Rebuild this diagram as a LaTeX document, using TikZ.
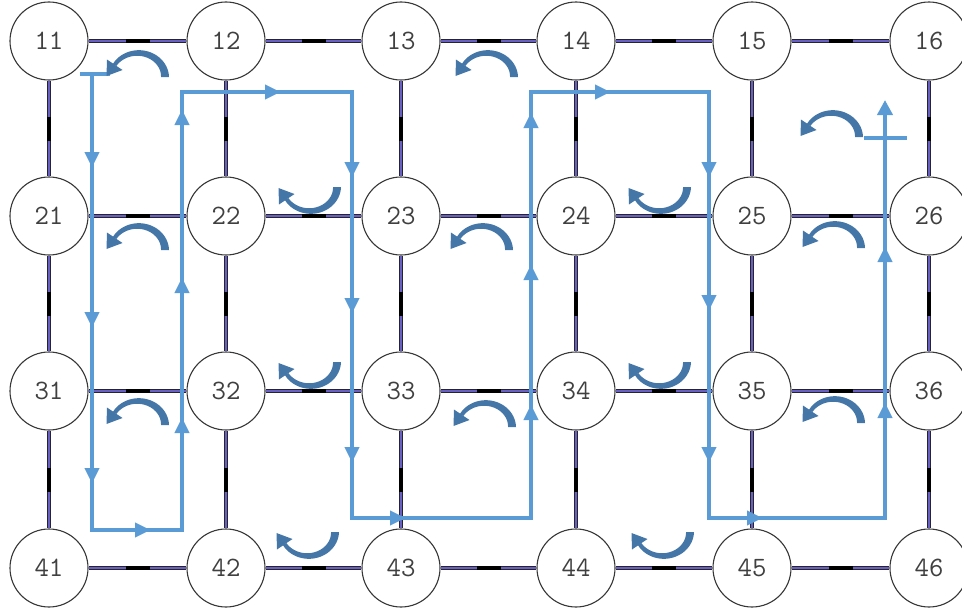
\documentclass[tikz,border=0pt]{standalone}
\usepackage{fontspec}
\usetikzlibrary{arrows.meta,decorations.markings}
\definecolor{pathblue}{RGB}{91,155,213}
\definecolor{rotblue}{RGB}{68,118,168}
\definecolor{edgepurple}{RGB}{105,95,200}
\definecolor{circgray}{RGB}{55,55,55}
\newcommand{\rotshape}{%
  \fill[rotblue] plot[domain=0:-150, samples=40, smooth] ({(29+2*(1+\x/150))*cos(\x)}, {(26+2*(1+\x/150))*sin(\x)})
    -- plot[domain=-150:0, samples=40, smooth] ({(25-2*(1+\x/150))*cos(\x)}, {(22-2*(1+\x/150))*sin(\x)}) -- cycle;
  \fill[rotblue] (-15.5,-7.0) -- (-31.5,-1.0) -- (-31.0,-17.5) -- cycle;
}
\tikzset{
  station/.style={circle, minimum size=78pt, inner sep=0pt, draw=circgray, line width=1.1pt, fill=white,
    font=\ttfamily\fontsize{28}{28}\selectfont, text=black!75},
  link/.style={draw=black!85, line width=0.9pt, double=edgepurple, double distance=1.6pt},
  edgemark/.style={sloped, rectangle, fill=black, minimum width=24pt, minimum height=4.5pt, inner sep=0pt},
  bp/.style={draw=pathblue, line width=4.5pt},
  mytip/.tip={Triangle[length=15pt,width=15pt]},
  ar/.style={postaction={decorate, decoration={markings, mark=at position #1 with {\arrow[pathblue]{mytip}}}}},
  rotcap/.pic={\rotshape},
  rotcup/.pic={\begin{scope}[yscale=-1]\rotshape\end{scope}}
}
\begin{document}
\begin{tikzpicture}[x=1pt,y=-1pt]
\useasboundingbox (0,0) rectangle (962,613);
% stations
\foreach \rr/\yy in {1/41,2/216,3/391,4/568}
  \foreach \cc/\xx in {1/49,2/226,3/401,4/576,5/752,6/929}
    \node[station] (n\rr\cc) at (\xx,\yy) {\rr\cc};
% horizontal edges
\foreach \rr in {1,2,3,4}
  \foreach \ca/\cb in {1/2,2/3,3/4,4/5,5/6}
    \draw[link] (n\rr\ca) -- node[edgemark] (mh\rr\ca) {} (n\rr\cb);
% vertical edges
\foreach \cc in {1,2,3,4,5,6}
  \foreach \ra/\rb in {1/2,2/3,3/4}
    \draw[link] (n\ra\cc) -- node[edgemark] (mv\ra\cc) {} (n\rb\cc);
% path corners
\coordinate (ta) at (80,74);
\coordinate (tb) at (110,74);
\coordinate (c1) at (92,74);
\coordinate (c2) at (92,530);
\coordinate (c3) at (182,530);
\coordinate (c4) at (182,92);
\coordinate (c5) at (352,92);
\coordinate (c6) at (352,518);
\coordinate (c7) at (531,518);
\coordinate (c8) at (531,92);
\coordinate (c9) at (709,92);
\coordinate (c10) at (709,518);
\coordinate (c11) at (885,518);
\coordinate (c12) at (885,100);
\coordinate (tc) at (864,138);
\coordinate (td) at (907,138);
\draw[bp] (ta) -- (tb);
\draw[bp] (tc) -- (td);
\draw[bp, line join=miter, -{Triangle[length=15pt,width=15pt]}]
  (c1) -- (c2) -- (c3) -- (c4) -- (c5) -- (c6) -- (c7) -- (c8) -- (c9) -- (c10) -- (c11) -- (c12);
% mid arrows
\path[ar=93pt, ar=253pt, ar=409pt] (c1) -- (c2);
\path[ar=58pt] (c2) -- (c3);
\path[ar=112pt, ar=252pt, ar=420pt] (c3) -- (c4);
\path[ar=98pt] (c4) -- (c5);
\path[ar=85pt, ar=221pt, ar=370pt] (c5) -- (c6);
\path[ar=53pt] (c6) -- (c7);
\path[ar=113pt, ar=253pt, ar=405pt] (c7) -- (c8);
\path[ar=79pt] (c8) -- (c9);
\path[ar=85pt, ar=218pt, ar=370pt] (c9) -- (c10);
\path[ar=53pt] (c10) -- (c11);
\path[ar=115pt, ar=271pt] (c11) -- (c12);
% rotation symbols
\foreach \p in {(138,77),(487,77),(138,250),(138,425),(482,250),(485,427),(834,248),(834,423),(832,137)}
  \path \p pic {rotcap};
\foreach \p in {(310,187),(310,362),(660,187),(660,362),(308,532),(663,532)}
  \path \p pic {rotcup};
\end{tikzpicture}
\end{document}
